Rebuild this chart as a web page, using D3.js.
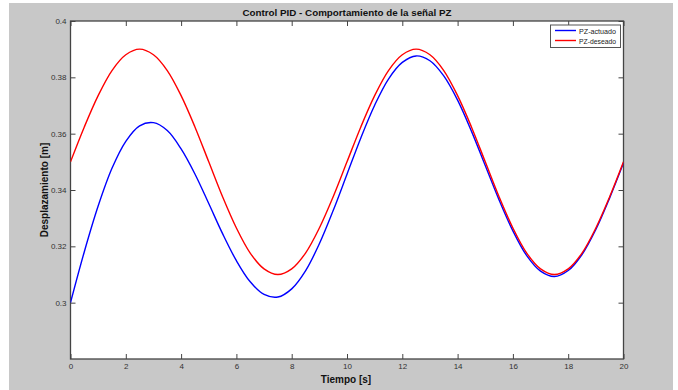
<!DOCTYPE html>
<html><head><meta charset="utf-8">
<script src="https://cdn.jsdelivr.net/npm/d3@7"></script>
<style>body{margin:0;background:#fff}svg{display:block;font-family:"Liberation Sans",Arial,sans-serif}</style>
</head><body>
<script>
const time = [0,0.5,1,1.5,2,2.5,3,3.5,4,4.5,5,5.5,6,6.5,7,7.5,8,8.5,9,9.5,10,10.5,11,11.5,12,12.5,13,13.5,14,14.5,15,15.5,16,16.5,17,17.5,18,18.5,19,19.5,20];
const pzDeseado = [0.3500,0.3624,0.3735,0.3824,0.3880,0.3900,0.3880,0.3824,0.3735,0.3624,0.3500,0.3376,0.3265,0.3176,0.3120,0.3100,0.3120,0.3176,0.3265,0.3376,0.3500,0.3624,0.3735,0.3824,0.3880,0.3900,0.3880,0.3824,0.3735,0.3624,0.3500,0.3376,0.3265,0.3176,0.3120,0.3100,0.3120,0.3176,0.3265,0.3376,0.3500];
const pzActuado = [0.3000,0.3181,0.3343,0.3477,0.3573,0.3628,0.3639,0.3611,0.3546,0.3457,0.3352,0.3245,0.3149,0.3074,0.3029,0.3020,0.3049,0.3113,0.3209,0.3327,0.3456,0.3585,0.3701,0.3794,0.3853,0.3876,0.3859,0.3805,0.3719,0.3609,0.3487,0.3365,0.3255,0.3167,0.3112,0.3093,0.3114,0.3171,0.3260,0.3372,0.3496];
const xTicks = [0,2,4,6,8,10,12,14,16,18,20];
const yTicks = [0.30,0.32,0.34,0.36,0.38,0.40];
const yTickLabels = ["0.3","0.32","0.34","0.36","0.38","0.4"];
const seriesNames = ["PZ-actuado","PZ-deseado"];
const seriesColors = ["#0000ff","#ff0000"];

const W=678,H=390;
const svg=d3.select("body").append("svg").attr("width",W).attr("height",H);
svg.append("rect").attr("x",9).attr("y",3).attr("width",664).attr("height",387).attr("fill","#c8c8c8");

const L=70.5,R=623.5,T=21,B=359;
const x=d3.scaleLinear().domain([0,20]).range([L,R]);
const y=d3.scaleLinear().domain([0.28,0.40]).range([B,T]);

svg.append("rect").attr("x",L).attr("y",T).attr("width",R-L).attr("height",B-T).attr("fill","#fff");

const axColor="#444";
const tl=5;
const gB=svg.append("g").attr("transform",`translate(0,${B})`).call(d3.axisBottom(x).tickValues(xTicks).tickSizeInner(-tl).tickSizeOuter(0).tickPadding(4.5).tickFormat(d3.format("d")));
const gT=svg.append("g").attr("transform",`translate(0,${T})`).call(d3.axisTop(x).tickValues(xTicks).tickSizeInner(-tl).tickSizeOuter(0).tickFormat(""));
const gL=svg.append("g").attr("transform",`translate(${L},0)`).call(d3.axisLeft(y).tickValues(yTicks).tickSizeInner(-tl).tickSizeOuter(0).tickPadding(4).tickFormat((d,i)=>yTickLabels[i]));
const gR=svg.append("g").attr("transform",`translate(${R},0)`).call(d3.axisRight(y).tickValues(yTicks).tickSizeInner(-tl).tickSizeOuter(0).tickFormat(""));
[gB,gT,gL,gR].forEach(g=>{
  g.select(".domain").remove();
  g.selectAll("line").attr("stroke",axColor).attr("stroke-width",1);
  g.selectAll("text").attr("fill","#333").style("font-size","8px").style("font-family","'Liberation Sans',Arial,sans-serif");
});
svg.append("rect").attr("x",L).attr("y",T).attr("width",R-L).attr("height",B-T).attr("fill","none").attr("stroke",axColor).attr("stroke-width",1.3);

const line=d3.line().x((d,i)=>x(time[i])).y(d=>y(d)).curve(d3.curveCatmullRom.alpha(0.5));
svg.append("clipPath").attr("id","c").append("rect").attr("x",L).attr("y",T).attr("width",R-L).attr("height",B-T);
[pzActuado,pzDeseado].forEach((s,i)=>{
  svg.append("path").attr("d",line(s)).attr("fill","none").attr("stroke",seriesColors[i]).attr("stroke-width",1.4).attr("clip-path","url(#c)");
});

svg.append("text").attr("x",(L+R)/2).attr("y",15.5).attr("text-anchor","middle").attr("font-weight","bold").attr("font-size","9.8px").attr("fill","#111").text("Control PID - Comportamiento de la señal PZ");
svg.append("text").attr("x",346).attr("y",382.5).attr("text-anchor","middle").attr("font-weight","bold").attr("font-size","10px").attr("fill","#111").text("Tiempo [s]");
svg.append("text").attr("transform",`translate(48,${(T+B)/2}) rotate(-90)`).attr("text-anchor","middle").attr("font-weight","bold").attr("font-size","10px").attr("fill","#111").text("Desplazamiento [m]");

const lg=svg.append("g");
lg.append("rect").attr("x",550.5).attr("y",25).attr("width",70).attr("height",22.5).attr("fill","#fff").attr("stroke","#555").attr("stroke-width",1);
seriesNames.forEach((n,i)=>{
  const yy=30.5+i*10;
  lg.append("line").attr("x1",555).attr("x2",576).attr("y1",yy).attr("y2",yy).attr("stroke",seriesColors[i]).attr("stroke-width",1.4);
  lg.append("text").attr("x",579).attr("y",yy+3).attr("font-size","8px").attr("fill","#222")
    .attr("textLength",37).attr("lengthAdjust","spacingAndGlyphs").text(n);
});
</script>
</body></html>
